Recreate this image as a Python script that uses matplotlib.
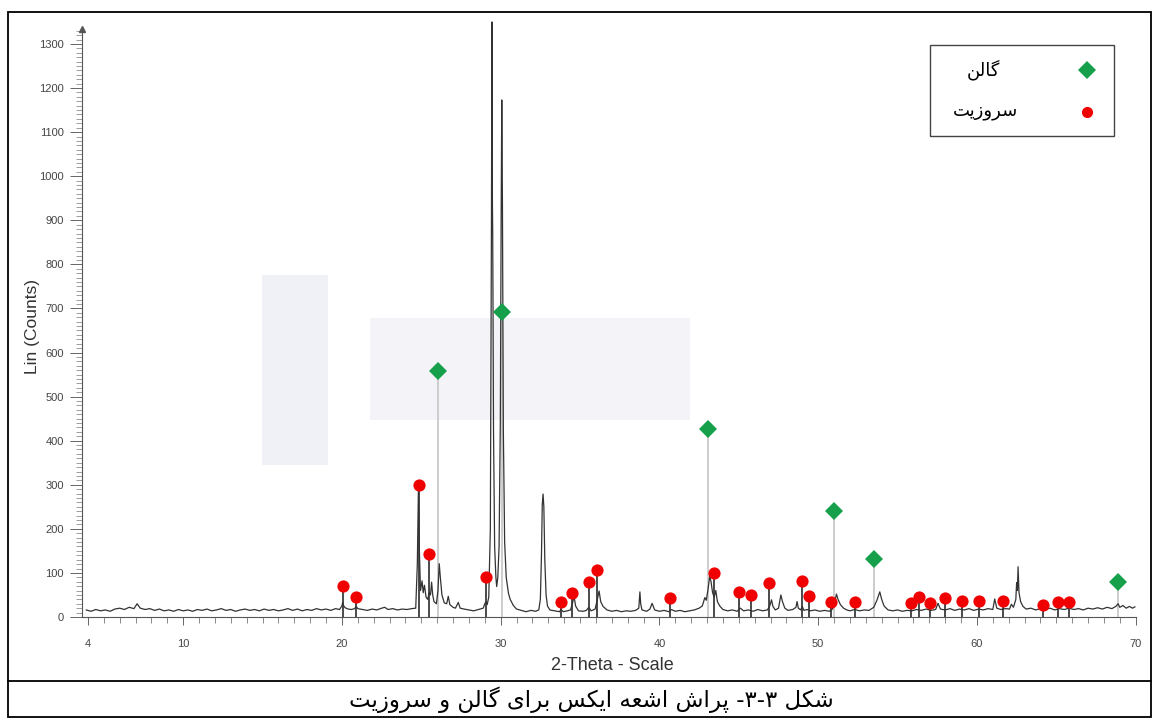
import matplotlib
matplotlib.use('Agg')
import matplotlib.pyplot as plt
from matplotlib.patches import Rectangle
from matplotlib.lines import Line2D
from matplotlib.ticker import FixedLocator

plt.rcParams['font.family'] = ['Liberation Sans', 'DejaVu Sans']

# XRD trace (2-theta, counts)
trace_2theta = [3.9, 4.2, 4.5, 4.8, 5.1, 5.4, 5.7, 6.0, 6.3, 6.6, 6.9, 7.1, 7.3, 7.6, 7.9,
                8.2, 8.5, 8.8, 9.1, 9.4, 9.7, 10.0, 10.3, 10.6, 10.9, 11.2, 11.5, 11.8, 12.1,
                12.4, 12.7, 13.0, 13.3, 13.6, 13.9, 14.2, 14.5, 14.8, 15.1, 15.4, 15.7, 16.0,
                16.3, 16.6, 16.9, 17.2, 17.5, 17.8, 18.1, 18.4, 18.7, 19.0, 19.3, 19.6, 19.85,
                20.0, 20.05, 20.1, 20.2, 20.4, 20.6, 20.8, 20.9, 21.0, 21.3, 21.6, 21.9, 22.2,
                22.5, 22.7, 22.9, 23.2, 23.5, 23.8, 24.1, 24.4, 24.65, 24.75, 24.82, 24.88,
                24.95, 25.05, 25.12, 25.2, 25.3, 25.4, 25.5, 25.58, 25.65, 25.72, 25.8, 25.95,
                26.05, 26.13, 26.2, 26.3, 26.45, 26.6, 26.7, 26.8, 27.0, 27.15, 27.33, 27.45,
                27.7, 28.0, 28.3, 28.6, 28.9, 29.0, 29.08, 29.15, 29.25, 29.35, 29.42, 29.45,
                29.48, 29.5, 29.55, 29.62, 29.7, 29.75, 29.82, 29.9, 29.98, 30.03, 30.07, 30.11,
                30.17, 30.25, 30.35, 30.49, 30.6, 30.8, 31.0, 31.3, 31.6, 31.9, 32.2, 32.4,
                32.5, 32.57, 32.62, 32.67, 32.72, 32.78, 32.86, 32.95, 33.1, 33.4, 33.7, 33.8,
                33.95, 34.2, 34.4, 34.52, 34.62, 34.72, 34.9, 35.2, 35.4, 35.55, 35.7, 35.95,
                36.09, 36.2, 36.3, 36.45, 36.7, 37.0, 37.3, 37.6, 37.9, 38.2, 38.5, 38.7, 38.77,
                38.82, 38.9, 39.2, 39.4, 39.54, 39.7, 40.0, 40.3, 40.6, 40.75, 41.0, 41.3, 41.6,
                41.9, 42.2, 42.5, 42.7, 42.86, 42.95, 43.05, 43.17, 43.25, 43.35, 43.45, 43.55,
                43.65, 43.8, 44.0, 44.3, 44.6, 44.9, 45.1, 45.3, 45.6, 45.9, 46.2, 46.5, 46.8,
                46.95, 47.06, 47.15, 47.3, 47.5, 47.65, 47.75, 47.9, 48.1, 48.4, 48.6, 48.67,
                48.75, 48.9, 49.0, 49.1, 49.3, 49.5, 49.8, 50.1, 50.4, 50.7, 50.9, 51.05, 51.15,
                51.25, 51.4, 51.6, 51.8, 52.0, 52.3, 52.6, 52.9, 53.2, 53.5, 53.7, 53.88, 54.0,
                54.15, 54.4, 54.7, 55.0, 55.3, 55.6, 55.9, 56.2, 56.5, 56.8, 57.1, 57.4, 57.55,
                57.7, 58.0, 58.3, 58.6, 58.9, 59.2, 59.5, 59.8, 60.1, 60.4, 60.7, 61.0, 61.12,
                61.25, 61.5, 61.8, 62.05, 62.17, 62.3, 62.45, 62.5, 62.55, 62.59, 62.65, 62.75,
                62.9, 63.1, 63.4, 63.7, 64.0, 64.3, 64.6, 64.9, 65.2, 65.5, 65.8, 66.1, 66.4,
                66.7, 67.0, 67.3, 67.6, 67.9, 68.2, 68.5, 68.75, 68.89, 69.0, 69.2, 69.4, 69.6,
                69.8, 69.95]
trace_counts = [16, 13, 17, 14, 16, 13, 18, 20, 17, 22, 19, 30, 20, 17, 19,
                15, 18, 14, 16, 13, 17, 14, 16, 13, 17, 15, 18, 14, 16,
                19, 15, 17, 13, 16, 18, 15, 17, 14, 18, 15, 17, 14,
                16, 19, 15, 18, 14, 17, 15, 19, 16, 18, 15, 19, 17,
                25, 33, 26, 21, 18, 17, 19, 24, 19, 17, 15, 18, 16,
                20, 22, 17, 19, 16, 18, 17, 19, 20, 120, 290, 150,
                60, 82, 55, 72, 45, 40, 55, 50, 79, 50, 35, 30,
                60, 121, 90, 50, 32, 30, 47, 28, 22, 20, 33, 20,
                18, 16, 14, 17, 20, 30, 35, 28, 45, 200, 900, 1350,
                940, 862, 420, 160, 90, 69, 90, 160, 450, 900, 1173, 950,
                420, 170, 90, 54, 40, 26, 18, 15, 12, 15, 13, 16,
                40, 140, 255, 279, 250, 130, 50, 25, 16, 14, 12, 17,
                12, 14, 16, 30, 48, 25, 14, 13, 15, 22, 14, 18,
                40, 59, 35, 24, 16, 13, 15, 12, 14, 13, 15, 20, 57,
                30, 16, 13, 18, 31, 16, 13, 15, 12, 17, 13, 15, 12,
                14, 16, 20, 25, 44, 38, 60, 93, 80, 55, 45, 60,
                35, 25, 17, 14, 16, 13, 20, 14, 16, 13, 17, 14, 16,
                25, 39, 24, 16, 20, 50, 35, 20, 15, 17, 22, 35,
                20, 16, 24, 15, 17, 14, 16, 13, 15, 13, 18, 35, 52,
                40, 28, 20, 16, 14, 17, 14, 16, 15, 22, 38, 57, 40,
                25, 16, 14, 16, 13, 15, 14, 17, 15, 18, 15, 17, 31,
                18, 16, 19, 15, 18, 16, 19, 15, 18, 16, 19, 17, 41,
                20, 17, 19, 18, 29, 22, 40, 78, 60, 114, 55, 35,
                24, 18, 20, 16, 19, 17, 20, 16, 19, 17, 20, 17, 19,
                16, 20, 18, 21, 18, 22, 19, 24, 30, 22, 26, 20, 24,
                20, 23]

# galena reference lines (green diamonds)
galena_2theta = [26.03, 30.11, 43.04, 51.02, 53.5, 68.87]
galena_counts = [558, 692, 426, 241, 132, 79]

# cerussite reference lines (red circles)
cerussite_2theta = [20.09, 20.9, 24.84, 25.5, 29.08, 33.8, 34.52, 35.54, 36.09, 40.69,
                    43.44, 45.02, 45.76, 46.93, 49.01, 49.44, 50.79, 52.34, 55.83, 56.37,
                    57.02, 57.99, 59.04, 60.13, 61.62, 64.19, 65.08, 65.81]
cerussite_counts = [70, 46, 300, 144, 90, 33, 54, 80, 106, 43,
                    99, 57, 49, 78, 82, 47, 34, 33, 31, 45,
                    31, 44, 37, 37, 36, 28, 35, 35]

x_ticks = [4, 10, 20, 30, 40, 50, 60, 70]
y_ticks = list(range(0, 1301, 100))

label_galena = 'گالن'
label_cerussite = 'سروزیت'
caption = 'شکل ۳-۳- پراش اشعه ایکس برای گالن و سروزیت'

# Arabic-script shaping (isolated, final, initial, medial)
FORMS = {
    'ا': ('\uFE8D', '\uFE8E', None, None),
    'ب': ('\uFE8F', '\uFE90', '\uFE91', '\uFE92'),
    'ت': ('\uFE95', '\uFE96', '\uFE97', '\uFE98'),
    'ر': ('\uFEAD', '\uFEAE', None, None),
    'ز': ('\uFEAF', '\uFEB0', None, None),
    'س': ('\uFEB1', '\uFEB2', '\uFEB3', '\uFEB4'),
    'ش': ('\uFEB5', '\uFEB6', '\uFEB7', '\uFEB8'),
    'ع': ('\uFEC9', '\uFECA', '\uFECB', '\uFECC'),
    'ل': ('\uFEDD', '\uFEDE', '\uFEDF', '\uFEE0'),
    'ن': ('\uFEE5', '\uFEE6', '\uFEE7', '\uFEE8'),
    'ه': ('\uFEE9', '\uFEEA', '\uFEEB', '\uFEEC'),
    'و': ('\uFEED', '\uFEEE', None, None),
    'پ': ('\uFB56', '\uFB57', '\uFB58', '\uFB59'),
    'ک': ('\uFB8E', '\uFB8F', '\uFB90', '\uFB91'),
    'گ': ('\uFB92', '\uFB93', '\uFB94', '\uFB95'),
    'ی': ('\uFBFC', '\uFBFD', '\uFBFE', '\uFBFF'),
}


def shape(text):
    out = []
    for i, c in enumerate(text):
        if c not in FORMS:
            out.append(c)
            continue
        iso, fin, ini, med = FORMS[c]
        prev = text[i - 1] if i > 0 else ''
        nxt = text[i + 1] if i + 1 < len(text) else ''
        jp = prev in FORMS and FORMS[prev][2] is not None
        jn = nxt in FORMS and ini is not None
        if jp and jn:
            out.append(med)
        elif jp:
            out.append(fin)
        elif jn:
            out.append(ini)
        else:
            out.append(iso)
    return ''.join(reversed(out))


W, H = 1159, 722


def fx(p):
    return p / W


def fy(p):
    return 1 - p / H


fig = plt.figure(figsize=(W / 100, H / 100), dpi=100)

y0_px = 617
px_per_count = 0.4408
ytop = 1352
ax = fig.add_axes([fx(81.7), fy(y0_px), (1135.7 - 81.7) / W, ytop * px_per_count / H])
ax.patch.set_alpha(0)

# faint scan patches
fig.add_artist(Rectangle((fx(262), fy(465)), 66 / W, 190 / H, transform=fig.transFigure,
                         color='#f0f0f7', lw=0, zorder=-2))
fig.add_artist(Rectangle((fx(370), fy(420)), 320 / W, 102 / H, transform=fig.transFigure,
                         color='#f4f4f8', lw=0, zorder=-2))

ax.vlines(galena_2theta, 0, galena_counts, color='#c9c9c9', lw=1.3, zorder=1)
ax.vlines(cerussite_2theta, 0, cerussite_counts, color='#3c3c3c', lw=1.3, zorder=2)
ax.plot(trace_2theta, trace_counts, color='#333333', lw=0.9, zorder=3, clip_on=False)
ax.plot(galena_2theta, galena_counts, 'D', color='#17a04b', ms=9.2, mew=0, zorder=4)
ax.plot(cerussite_2theta, cerussite_counts, 'o', color='#f00000', ms=8.8, mew=0, zorder=4)

ax.set_xlim(3.61, 70)
ax.set_ylim(0, ytop)
for s in ['top', 'right']:
    ax.spines[s].set_visible(False)
ax.spines['left'].set_bounds(0, 1335)
ax.spines['left'].set_color('#555555')
ax.spines['bottom'].set_color('#555555')
ax.plot([3.61], [1335], marker='^', ms=4, color='#555555', clip_on=False)

ax.set_xticks(x_ticks)
ax.xaxis.set_minor_locator(FixedLocator(list(range(4, 71))))
ax.set_yticks(y_ticks)
ax.yaxis.set_minor_locator(FixedLocator(list(range(0, 1331, 10))))
ax.tick_params(axis='y', which='major', length=9, width=0.7, color='#666666',
               labelsize=8, labelcolor='#444444', pad=4)
ax.tick_params(axis='y', which='minor', length=4, width=0.5, color='#777777')
ax.tick_params(axis='x', which='major', length=6, width=0.7, color='#666666',
               labelsize=8, labelcolor='#444444', pad=10)
ax.tick_params(axis='x', which='minor', length=4, width=0.6, color='#777777')

fig.text(fx(32), fy(326), 'Lin (Counts)', rotation=90, ha='center', va='center',
         fontsize=12.5, color='#333333')
fig.text(fx(612), fy(665), '2-Theta - Scale', ha='center', va='center',
         fontsize=13, color='#333333')

# legend box
fig.add_artist(Rectangle((fx(930), fy(136)), (1114 - 930) / W, (136 - 45) / H,
                         transform=fig.transFigure, fill=False, lw=1, ec='#444444'))
fig.add_artist(Line2D([fx(1087)], [fy(70)], transform=fig.transFigure, marker='D',
                      color='#17a04b', ms=9.2, mew=0))
fig.add_artist(Line2D([fx(1087)], [fy(112)], transform=fig.transFigure, marker='o',
                      color='#f00000', ms=8, mew=0))
fig.text(fx(983), fy(70), shape(label_galena), family='DejaVu Sans', fontsize=13,
         ha='center', va='center')
fig.text(fx(985), fy(111), shape(label_cerussite), family='DejaVu Sans', fontsize=13,
         ha='center', va='center')

# outer frame and caption row
fig.add_artist(Rectangle((fx(8), fy(717)), (1151 - 8) / W, (717 - 12) / H,
                         transform=fig.transFigure, fill=False, lw=1.3, ec='black'))
fig.add_artist(Line2D([fx(8), fx(1151)], [fy(681), fy(681)], transform=fig.transFigure,
                      color='black', lw=1.3))
fig.text(fx(591), fy(700), shape(caption), family='DejaVu Sans', fontsize=16.5,
         ha='center', va='center')

fig.savefig('out.png', dpi=100)
